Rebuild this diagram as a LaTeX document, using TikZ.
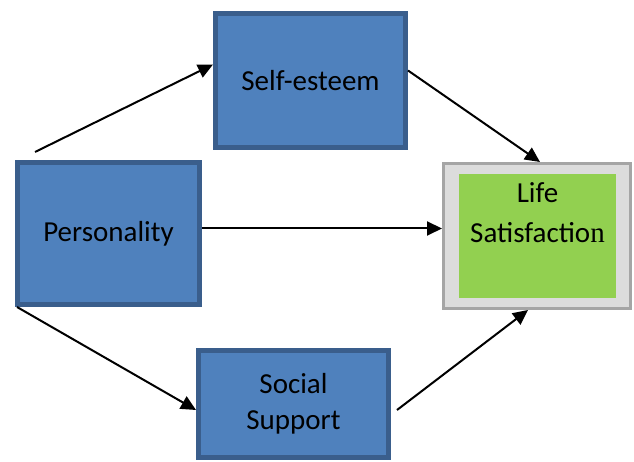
\documentclass[tikz,border=0pt]{standalone}
\usepackage{fontspec}
\setmainfont{Carlito}
\newfontfamily\serifn{Liberation Serif}
\usetikzlibrary{arrows.meta}
\definecolor{boxblue}{HTML}{4F81BD}
\definecolor{boxborder}{HTML}{3A5E8C}
\definecolor{lsgray}{HTML}{DCDCDC}
\definecolor{lsborder}{HTML}{A5A5A5}
\definecolor{lsgreen}{HTML}{92D050}
\begin{document}
\begin{tikzpicture}[x=1pt,y=1pt,
  bluebox/.style={draw=boxborder,fill=boxblue,line width=5pt,inner sep=0pt,
    font=\fontsize{29}{36}\selectfont,align=center},
  graybox/.style={draw=lsborder,fill=lsgray,line width=3pt,inner sep=0pt},
  greenbox/.style={fill=lsgreen,inner sep=0pt},
  arr/.style={line width=2pt,-{Triangle[length=15pt,width=14pt]}}]
\useasboundingbox (0,0) rectangle (634,462);
\node[bluebox,minimum width=190pt,minimum height=134pt] (SE) at (310.5,381.5) {Self-esteem};
\node[bluebox,minimum width=182pt,minimum height=142pt,text depth=4pt] (P) at (108.5,228.5) {Personality};
\node[bluebox,minimum width=190pt,minimum height=107pt] (SS) at (293.5,58) {Social\\Support};
\node[graybox,minimum width=187pt,minimum height=145pt] (LS) at (537,226) {};
\node[greenbox,minimum width=157pt,minimum height=124pt] (G) at (537.5,226) {};
\node[anchor=north,align=center,inner sep=0pt,font=\fontsize{29}{40}\selectfont] (LT) at ([yshift=-9pt]G.north)
  {Life\\Satisfactio{\serifn n}};
\draw[arr] ([shift={(20pt,8pt)}]P.north west) -- ([yshift=16pt]SE.west);
\draw[arr] ([yshift=10pt]SE.east) -- ([xshift=3pt]LS.north);
\draw[arr] ([yshift=5pt]P.east) -- ([yshift=5pt]P.east -| LS.west);
\draw[arr] ([shift={(2pt,0pt)}]P.south west) -- ([yshift=-6pt]SS.west);
\draw[arr] ([shift={(6pt,-6pt)}]SS.east) -- ([xshift=-9pt]LS.south);
\end{tikzpicture}
\end{document}
